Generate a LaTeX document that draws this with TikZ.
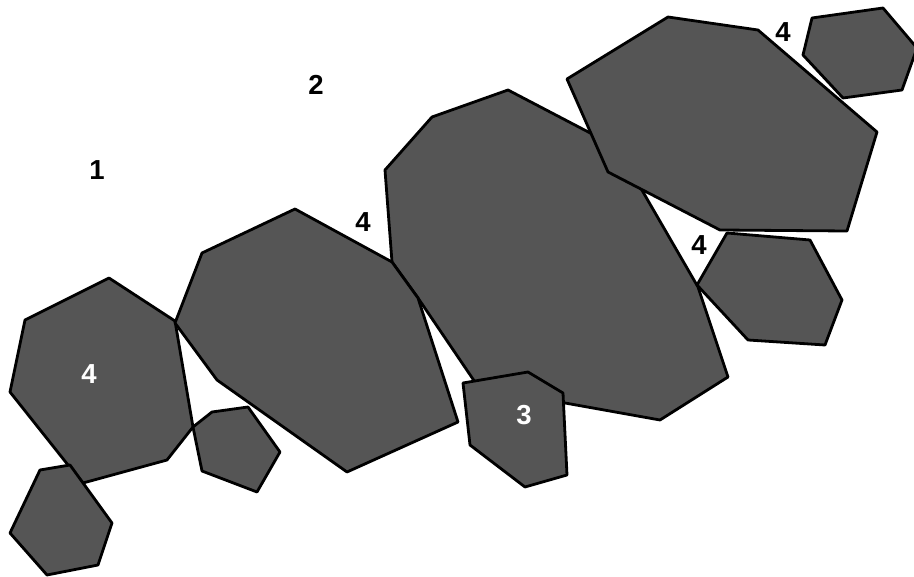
\documentclass[tikz,border=0pt]{standalone}
\usepackage{fontspec}
\setmainfont{Liberation Sans}
\definecolor{rock}{HTML}{555555}

\begin{document}
\begin{tikzpicture}[x=1pt, y=-1pt,
    stone/.style={draw=black, fill=rock, line width=2.8pt, line join=round},
    num/.style={font=\fontsize{27.5}{30}\selectfont\bfseries, inner sep=0pt},
    every node/.style={num}]
        \useasboundingbox (0,0) rectangle (914,577);
        \begin{scope}
        \clip (0,0) rectangle (914,577);
        % left group
        \draw[stone] (25,320) -- (109,278) -- (175,321) -- (193,427) -- (167,460) -- (83,483) -- (72,470) -- (10,392) -- cycle;
        \draw[stone] (40,470) -- (70,465) -- (112,523) -- (98,565) -- (47,575) -- (10,533) -- cycle;
        \draw[stone] (212,412) -- (248,407) -- (280,452) -- (257,492) -- (202,471) -- (193,427) -- cycle;
        % middle group
        \draw[stone] (508,90) -- (617,147) -- (698,287) -- (728,377) -- (660,420) -- (565,403) -- (479,388) -- (418,298) -- (392,262) -- (385,170) -- (432,117) -- cycle;
        \draw[stone] (202,253) -- (295,209) -- (392,262) -- (418,298) -- (458,422) -- (347,472) -- (217,380) -- (175,323) -- cycle;
        \draw[stone] (463,383) -- (528,372) -- (563,393) -- (567,475) -- (525,487) -- (470,445) -- cycle;
        % right group
        \draw[stone] (567,79) -- (668,17) -- (758,30) -- (877,132) -- (847,231) -- (720,230) -- (608,172) -- cycle;
        \draw[stone] (727,233) -- (810,240) -- (842,300) -- (825,345) -- (748,340) -- (697,285) -- cycle;
        \draw[stone] (812,18) -- (883,8) -- (917,48) -- (902,90) -- (843,98) -- (803,55) -- cycle;
        \end{scope}
        % labels
        \node (one) at (97,170) {1};
        \node (two) at (316,85) {2};
        \node (fourA) at (363,222) {4};
        \node (fourB) at (699,245) {4};
        \node (fourC) at (783,32) {4};
        \node[white] (fourD) at (89,374) {4};
        \node[white] (three) at (524,415) {3};
\end{tikzpicture}
\end{document}
